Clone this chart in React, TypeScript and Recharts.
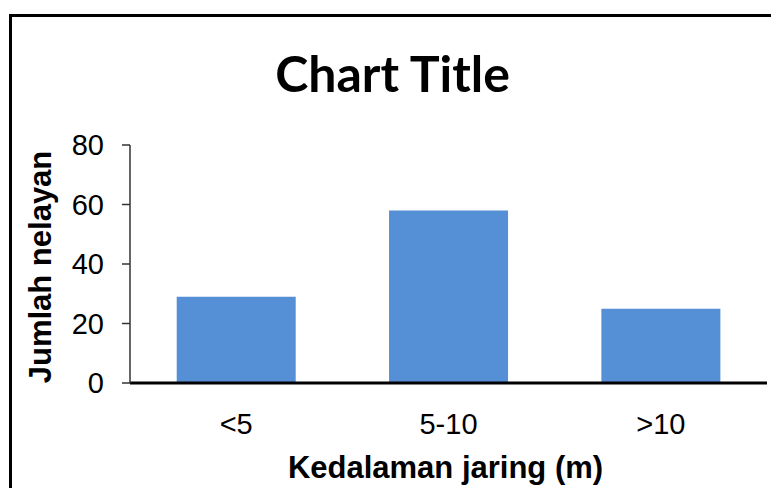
import { BarChart, Bar, XAxis, YAxis, Label } from 'recharts';

// 柱状数据
const categories = ['<5', '5-10', '>10'];
const counts = [29, 58, 25];
const yTicks = [0, 20, 40, 60, 80];

const data = categories.map((name, i) => ({ name, value: counts[i] }));

const FONT = '"Liberation Sans", Arial, sans-serif';

function YTitle(props: any) {
  const { viewBox } = props;
  const cx = 40;
  const cy = viewBox.y + viewBox.height / 2 + 3;
  return (
    <text
      x={cx}
      y={cy}
      transform={`rotate(-90 ${cx} ${cy})`}
      textAnchor="middle"
      dominantBaseline="central"
      fontFamily={FONT}
      fontWeight="bold"
      fontSize={31}
      fill="#000"
    >
      Jumlah nelayan
    </text>
  );
}

function XTitle(props: any) {
  const { viewBox } = props;
  const cx = viewBox.x + viewBox.width / 2 - 3;
  return (
    <text
      x={cx}
      y={467}
      textAnchor="middle"
      dominantBaseline="central"
      fontFamily={FONT}
      fontWeight="bold"
      fontSize={31}
      fill="#000"
    >
      Kedalaman jaring (m)
    </text>
  );
}

export default function App() {
  return (
    <div
      style={{
        position: 'absolute',
        left: 0,
        top: 0,
        width: 771,
        height: 488,
        overflow: 'hidden',
        background: '#fff',
      }}
    >
      {/* 外框，右下两边超出画面 */}
      <div
        style={{
          position: 'absolute',
          left: 9,
          top: 14,
          width: 800,
          height: 520,
          border: '3px solid #000',
          boxSizing: 'border-box',
        }}
      />
      <div
        style={{
          position: 'absolute',
          left: 0,
          top: 45,
          width: 785,
          textAlign: 'center',
          fontFamily: 'Lato, "Open Sans", sans-serif',
          fontWeight: 700,
          fontSize: 50,
          lineHeight: '56px',
          color: '#000',
        }}
      >
        Chart Title
      </div>
      <div style={{ position: 'absolute', left: 0, top: 0 }}>
        <BarChart
          width={771}
          height={488}
          data={data}
          margin={{ top: 145, right: 4, bottom: 0, left: 0 }}
          barCategoryGap="22%"
        >
          <XAxis
            dataKey="name"
            axisLine={{ stroke: '#000', strokeWidth: 3 }}
            tickLine={false}
            tickSize={0}
            tickMargin={30}
            tick={{ fill: '#000', fontSize: 29, fontFamily: FONT }}
            height={105}
          >
            <Label content={<XTitle />} />
          </XAxis>
          <YAxis
            domain={[0, 80]}
            ticks={yTicks}
            interval={0}
            width={130}
            axisLine={{ stroke: '#333', strokeWidth: 1.5 }}
            tickLine={{ stroke: '#333', strokeWidth: 1.5 }}
            tickSize={8}
            tickMargin={18}
            tick={{ fill: '#000', fontSize: 29, fontFamily: FONT }}
          >
            <Label content={<YTitle />} />
          </YAxis>
          <Bar dataKey="value" fill="#558FD6" isAnimationActive={false} />
        </BarChart>
      </div>
    </div>
  );
}
